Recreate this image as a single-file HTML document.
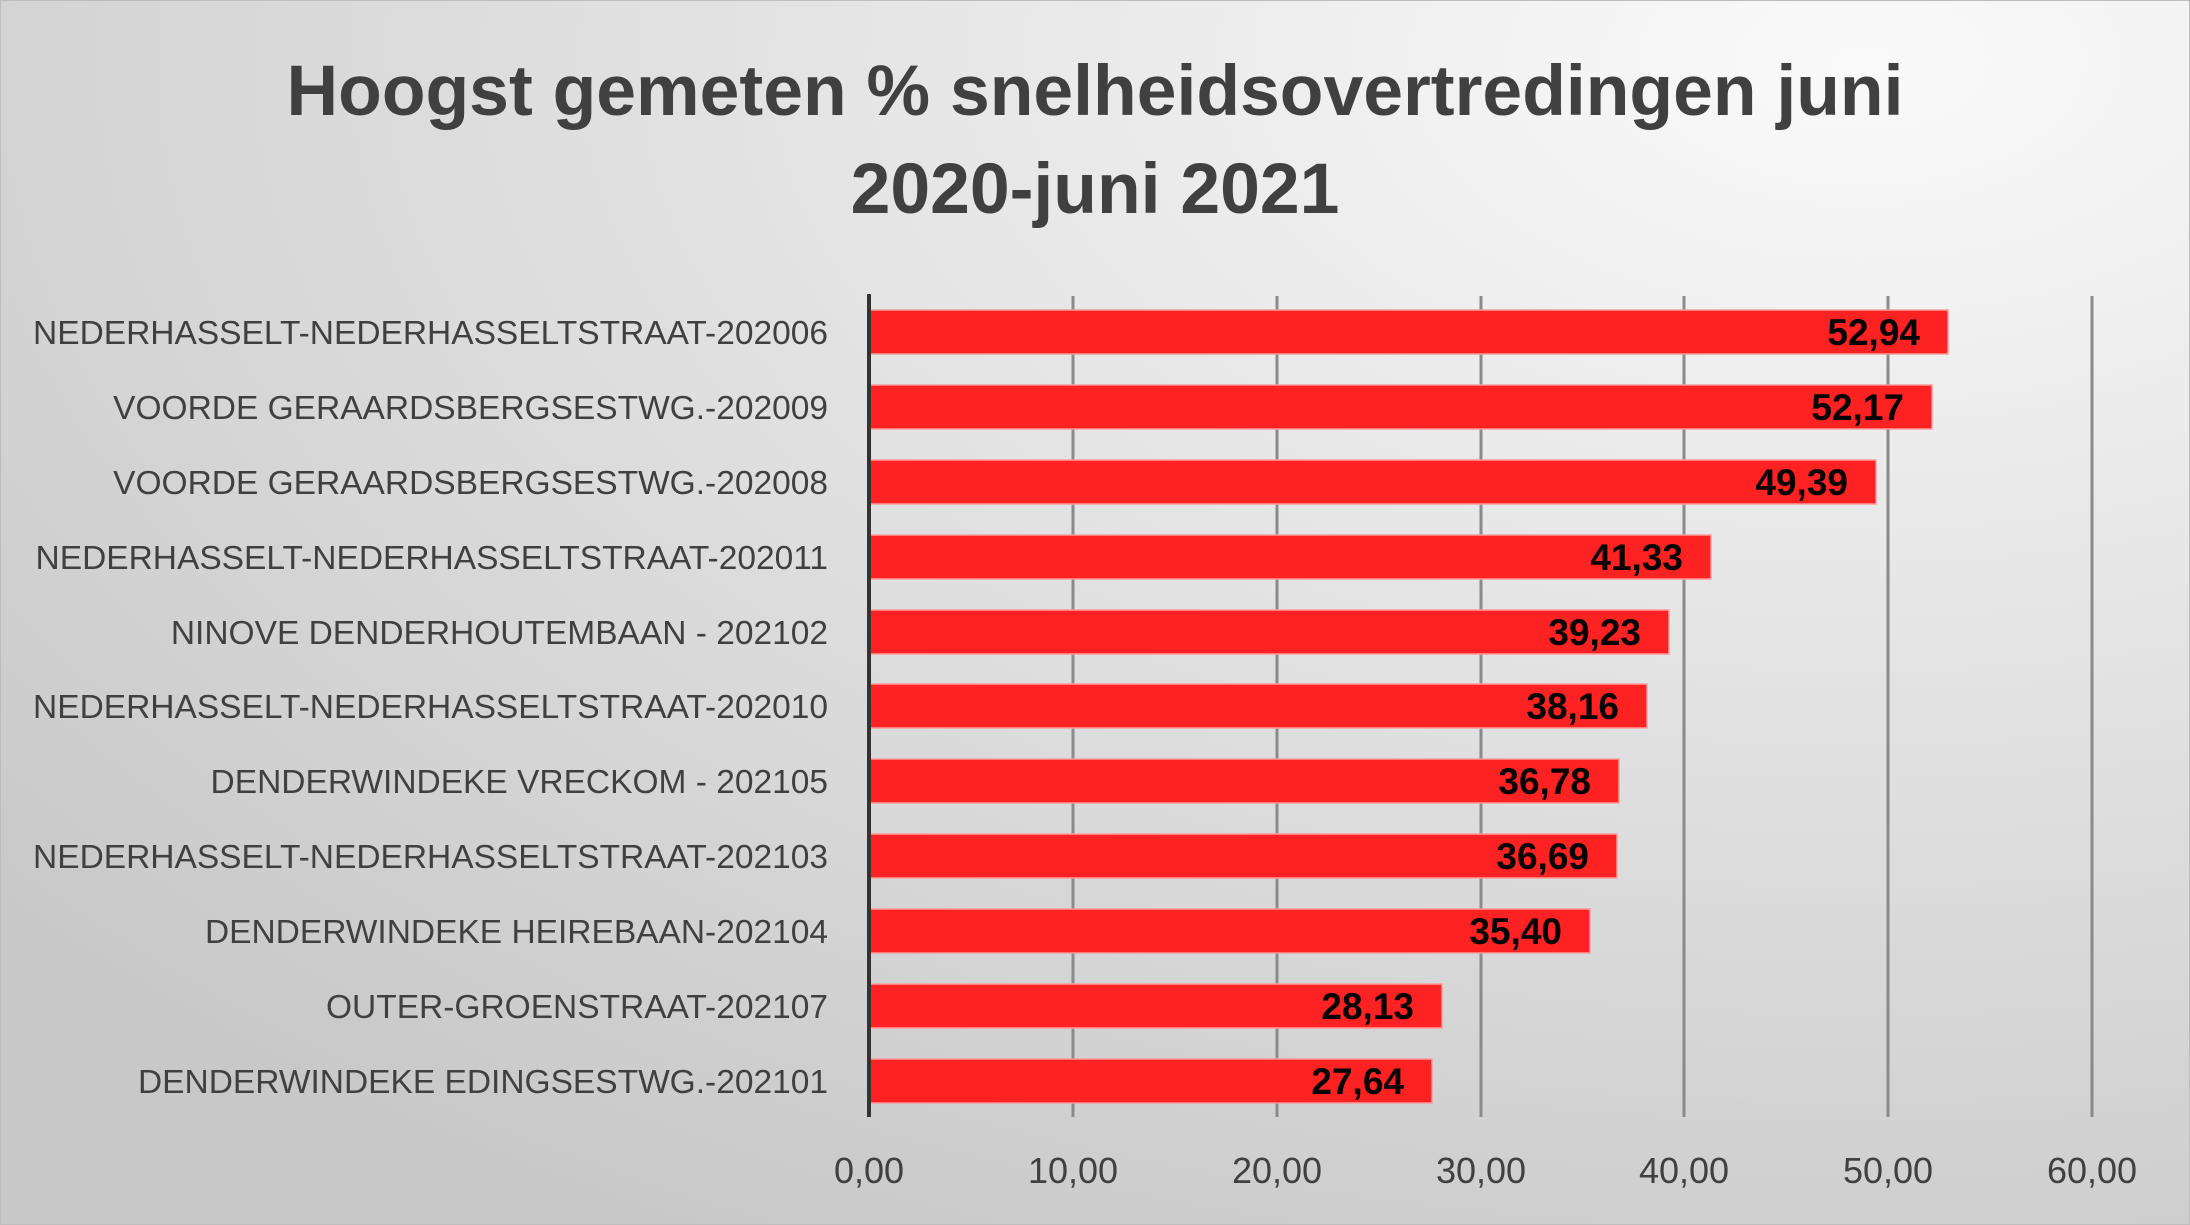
<!DOCTYPE html>
<html><head><meta charset="utf-8"><style>
body{margin:0;}
svg{display:block;}
</style></head><body>
<svg width="2190" height="1225" xmlns="http://www.w3.org/2000/svg">
<defs>
<radialGradient id="bg" cx="0.85" cy="0.05" r="1.1">
<stop offset="0" stop-color="#fafafa"/><stop offset="1" stop-color="#c8c8c8"/>
</radialGradient>
</defs>
<rect x="0" y="0" width="2190" height="1225" fill="url(#bg)" stroke="#bdbdbd" stroke-width="2"/>
<g font-family="Liberation Sans, sans-serif" font-weight="bold" fill="#404040" font-size="71.5" text-anchor="middle">
<text x="1095" y="115">Hoogst gemeten % snelheidsovertredingen juni</text>
<text x="1095" y="213">2020-juni 2021</text>
</g>
<g stroke="#8a8a8a" stroke-width="3">
<line x1="1073" y1="296" x2="1073" y2="1117"/>
<line x1="1277" y1="296" x2="1277" y2="1117"/>
<line x1="1481" y1="296" x2="1481" y2="1117"/>
<line x1="1684" y1="296" x2="1684" y2="1117"/>
<line x1="1888" y1="296" x2="1888" y2="1117"/>
<line x1="2092" y1="296" x2="2092" y2="1117"/>
</g>
<g fill="#fe2222" stroke="#ff9c9c" stroke-width="1.5">
<rect x="869" y="310" width="1079" height="44"/>
<rect x="869" y="385" width="1063" height="44"/>
<rect x="869" y="460" width="1007" height="44"/>
<rect x="869" y="535" width="842" height="44"/>
<rect x="869" y="610" width="800" height="44"/>
<rect x="869" y="684" width="778" height="44"/>
<rect x="869" y="759" width="750" height="44"/>
<rect x="869" y="834" width="748" height="44"/>
<rect x="869" y="909" width="721" height="44"/>
<rect x="869" y="984" width="573" height="44"/>
<rect x="869" y="1059" width="563" height="44"/>
</g>
<line x1="869" y1="294" x2="869" y2="1117" stroke="#333" stroke-width="4"/>
<g font-family="Liberation Sans, sans-serif" font-weight="bold" fill="#000" font-size="37" text-anchor="end">
<text x="1920" y="345">52,94</text>
<text x="1904" y="420">52,17</text>
<text x="1848" y="495">49,39</text>
<text x="1683" y="570">41,33</text>
<text x="1641" y="645">39,23</text>
<text x="1619" y="719">38,16</text>
<text x="1591" y="794">36,78</text>
<text x="1589" y="869">36,69</text>
<text x="1562" y="944">35,40</text>
<text x="1414" y="1019">28,13</text>
<text x="1404" y="1094">27,64</text>
</g>
<g font-family="Liberation Sans, sans-serif" fill="#404040" font-size="33.5" text-anchor="end" xml:space="preserve">
<text x="828" y="344">NEDERHASSELT-NEDERHASSELTSTRAAT-202006</text>
<text x="828" y="419">VOORDE GERAARDSBERGSESTWG.-202009</text>
<text x="828" y="494">VOORDE GERAARDSBERGSESTWG.-202008</text>
<text x="828" y="569">NEDERHASSELT-NEDERHASSELTSTRAAT-202011</text>
<text x="828" y="644">NINOVE  DENDERHOUTEMBAAN  - 202102</text>
<text x="828" y="718">NEDERHASSELT-NEDERHASSELTSTRAAT-202010</text>
<text x="828" y="793">DENDERWINDEKE  VRECKOM  - 202105</text>
<text x="828" y="868">NEDERHASSELT-NEDERHASSELTSTRAAT-202103</text>
<text x="828" y="943">DENDERWINDEKE  HEIREBAAN-202104</text>
<text x="828" y="1018">OUTER-GROENSTRAAT-202107</text>
<text x="828" y="1093">DENDERWINDEKE  EDINGSESTWG.-202101</text>
</g>
<g font-family="Liberation Sans, sans-serif" fill="#404040" font-size="36" text-anchor="middle">
<text x="869" y="1183">0,00</text>
<text x="1073" y="1183">10,00</text>
<text x="1277" y="1183">20,00</text>
<text x="1481" y="1183">30,00</text>
<text x="1684" y="1183">40,00</text>
<text x="1888" y="1183">50,00</text>
<text x="2092" y="1183">60,00</text>
</g>
</svg>
</body></html>
